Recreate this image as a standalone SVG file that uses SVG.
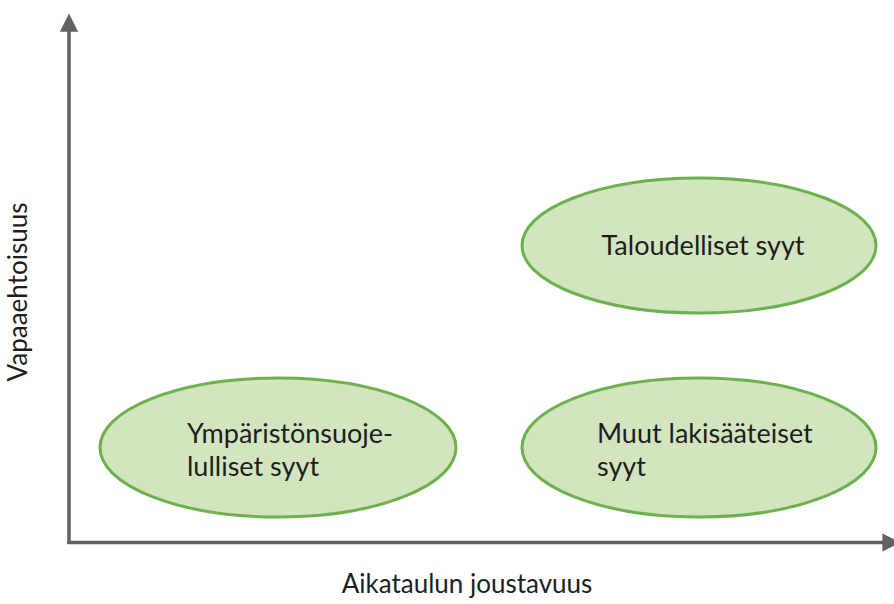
<svg xmlns="http://www.w3.org/2000/svg" width="894" height="604" viewBox="0 0 894 604">
  <style>
    .axis { stroke: #626262; stroke-width: 3.5; fill: none; }
    .node ellipse { fill: #d3e5bf; stroke: #6cb14d; stroke-width: 3; }
    .lbl { font-family: Lato, "Open Sans", "Liberation Sans", sans-serif; font-size: 27px; fill: #1e1e1e; }
    .axlbl { font-family: Lato, "Open Sans", "Liberation Sans", sans-serif; font-size: 26px; fill: #1e1e1e; }
  </style>
  <defs>
    <marker id="arrow" viewBox="0 0 10 10" refX="2" refY="5" markerWidth="5.2" markerHeight="5.2" markerUnits="strokeWidth" orient="auto">
      <path d="M0,0 L10,5 L0,10 Z" fill="#626262"/>
    </marker>
  </defs>
  <rect width="894" height="604" fill="#ffffff"/>

  <!-- axes -->
  <g id="connectors">
    <line class="axis" x1="69" y1="544" x2="69" y2="28" marker-end="url(#arrow)"/>
    <line class="axis" x1="67.3" y1="542.5" x2="886" y2="542.5" marker-end="url(#arrow)"/>
  </g>

  <text class="axlbl" transform="translate(27,292) rotate(-90)" text-anchor="middle">Vapaaehtoisuus</text>
  <text class="axlbl" x="467" y="593" text-anchor="middle" font-size="27.5">Aikataulun joustavuus</text>

  <g id="taloudelliset" class="node">
    <ellipse cx="699" cy="245.5" rx="177" ry="67.5"/>
    <text class="lbl" x="703" y="255" text-anchor="middle">Taloudelliset syyt</text>
  </g>

  <g id="ymparisto" class="node">
    <ellipse cx="278" cy="447.5" rx="178" ry="69.5"/>
    <text class="lbl" x="187" y="443">Ympäristönsuoje-</text>
    <text class="lbl" x="187" y="476">lulliset syyt</text>
  </g>

  <g id="muut" class="node">
    <ellipse cx="699" cy="447.5" rx="177" ry="69.5"/>
    <text class="lbl" x="597" y="443">Muut lakisääteiset</text>
    <text class="lbl" x="597" y="476">syyt</text>
  </g>
</svg>
